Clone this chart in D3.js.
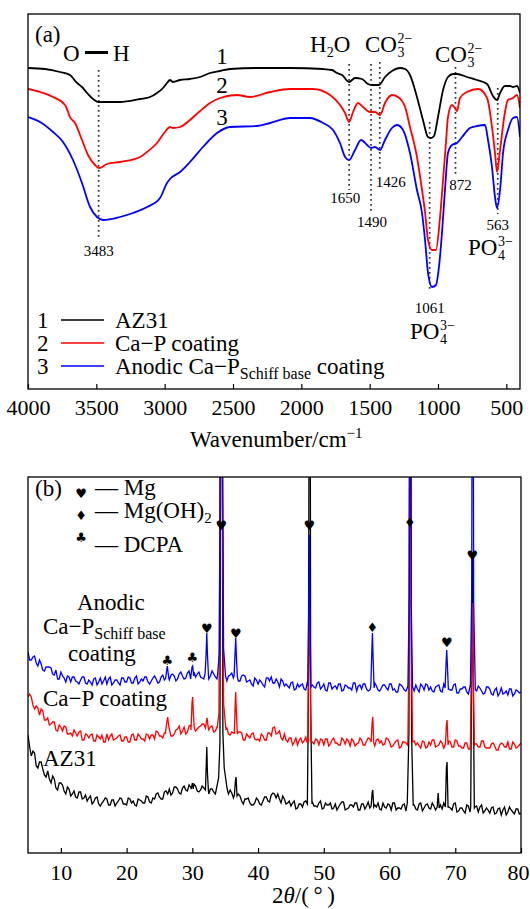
<!DOCTYPE html>
<html><head><meta charset="utf-8">
<script src="https://cdn.jsdelivr.net/npm/d3@7"></script>
<style>
body{margin:0;background:#fff;}
svg, svg text, svg tspan{font-family:"Liberation Serif","Tinos","Times New Roman","Nimbus Roman","DejaVu Serif",serif !important;}
svg text{fill:#000;}
svg text.sym{font-family:"DejaVu Sans",sans-serif !important;}
</style></head><body>
<svg id="c" width="530" height="909"></svg>
<script>
// ---------- FTIR data (panel a): wavenumber (cm-1) and transmittance (a.u.) ----------
const az31Wn = [4000,3876,3766,3693,3641,3605,3568,3524,3488,3437,3327,3180,3107,3056,3012,2983,2961,2939,2888,2815,2741,2668,2595,2522,2324,2083,1841,1776,1739,1702,1651,1607,1556,1512,1483,1432,1388,1337,1278,1241,1205,1154,1110,1073,1051,1029,1000,963,927,890,861,788,715,641,598,568,546,510,473,451,422,400];
const az31T  = [321,320,317,314,306,302,296,290,287,287,287,290,292,296,301,306,309,307,309,310,312,316,318,320,321,321,320,319,316,314,307,311,310,305,304,304,312,318,321,320,314,292,269,252,251,253,272,299,312,315,315,312,309,305,293,289,296,303,303,302,303,296];
const capWn = [4000,3912,3817,3729,3707,3693,3656,3605,3561,3510,3480,3422,3327,3180,3129,3056,2998,2961,2939,2888,2815,2741,2668,2595,2471,2376,2229,2083,1915,1790,1717,1680,1651,1622,1585,1549,1498,1461,1424,1388,1337,1293,1241,1205,1154,1117,1095,1073,1044,1015,985,963,942,927,898,876,861,839,788,707,641,605,583,568,546,510,488,451,422,400];
const capT  = [300,297,292,284,277,272,266,249,234,224,221,225,227,232,237,246,257,262,261,262,269,278,286,291,294,292,297,300,300,294,284,276,267,277,286,282,277,277,274,286,294,292,282,262,232,199,177,149,139,139,172,209,246,272,284,281,278,291,297,300,291,262,236,217,239,277,289,291,294,281];
const anodicWn = [4000,3912,3817,3744,3671,3605,3546,3495,3451,3327,3232,3129,3034,2983,2961,2888,2815,2720,2617,2522,2324,2229,2083,1937,1841,1768,1717,1680,1651,1607,1563,1519,1490,1461,1424,1388,1337,1300,1256,1205,1154,1117,1095,1073,1044,1015,993,971,949,927,898,861,824,766,715,656,634,605,583,568,546,524,488,451,422,400];
const anodicT  = [272,267,257,247,229,206,182,172,169,172,176,182,191,206,210,217,227,242,256,262,263,266,271,271,266,259,246,232,229,239,249,244,241,242,239,249,261,264,259,236,199,176,149,116,102,104,122,156,199,236,244,246,252,261,263,264,249,222,192,181,199,236,259,271,272,252];
const ftirTicks = [4000,3500,3000,2500,2000,1500,1000,500];
// band assignments: wavenumber, dotted-line top / bottom (transmittance a.u.)
const bandWn = [3483,1650,1490,1426,1061,872,563];
const bandTop = [319,325,325,327,267,322,301];
const bandBottom = [149,199,177,217,97,215,175];

// ---------- XRD data (panel b): 2theta (deg) and intensity (a.u.) ----------
const twoTheta = [5,5.5,6,6.5,7,7.5,8,8.5,9,9.5,10,10.5,11,11.5,12,12.5,13,13.5,14,14.5,15,15.5,16,16.5,17,17.5,18,18.5,19,19.5,20,20.5,21,21.5,22,22.5,23,23.5,24,24.5,25,25.5,26,26.5,27,27.5,28,28.5,29,29.5,30,30.5,31,31.5,32,32.5,33,33.5,34,34.5,35,35.5,36,36.5,37,37.5,38,38.5,39,39.5,40,40.5,41,41.5,42,42.5,43,43.5,44,44.5,45,45.5,46,46.5,47,47.5,48,48.5,49,49.5,50,50.5,51,51.5,52,52.5,53,53.5,54,54.5,55,55.5,56,56.5,57,57.5,58,58.5,59,59.5,60,60.5,61,61.5,62,62.5,63,63.5,64,64.5,65,65.5,66,66.5,67,67.5,68,68.5,69,69.5,70,70.5,71,71.5,72,72.5,73,73.5,74,74.5,75,75.5,76,76.5,77,77.5,78,78.5,79,79.5,80];
const xrdAnodic = [201,193,197,187,189,182,186,185,178,174,181,175,177,171,176,171,173,176,169,171,174,168,175,172,169,176,170,173,168,175,171,175,170,177,171,172,176,169,175,174,171,178,174,173,179,172,179,177,175,182,179,176,181,175,180,174,182,176,175,179,173,177,180,174,172,177,177,172,169,175,169,171,166,175,176,170,171,174,167,167,170,163,169,168,164,171,165,166,170,164,169,162,170,166,164,169,163,167,165,170,162,168,169,164,163,170,167,162,168,165,169,163,161,169,166,162,167,164,168,161,167,169,163,162,166,168,161,167,164,163,169,160,164,166,159,165,161,167,162,160,166,159,163,157,165,160,158,164,159,162,161];
const xrdCaP = [156,156,144,145,144,133,135,129,131,122,126,127,119,120,123,117,122,113,118,118,112,118,114,111,119,117,113,115,118,112,116,111,119,113,117,114,119,114,118,122,117,115,123,121,117,123,127,122,119,127,126,122,126,129,123,123,127,122,125,118,126,119,121,116,121,120,113,117,119,114,114,119,113,120,117,126,120,115,119,111,115,111,108,115,112,110,116,109,113,114,108,114,109,115,110,108,113,114,107,112,109,115,108,112,114,107,113,110,108,115,111,107,112,105,111,110,106,113,108,107,112,105,111,113,106,108,110,107,112,106,113,107,105,110,104,111,109,106,112,106,105,109,107,103,110,106,111,104,109,106,110];
const xrdAZ31 = [118,97,100,85,91,78,82,70,74,63,70,62,66,57,62,55,61,55,52,57,51,56,47,52,54,48,53,50,55,49,48,54,52,47,53,50,57,51,55,59,56,54,62,64,60,66,60,65,63,68,63,67,61,67,64,59,64,59,63,60,64,59,60,53,59,52,54,55,48,50,53,48,56,52,58,59,59,50,54,50,47,52,45,49,51,44,50,47,46,52,45,48,50,45,43,49,51,44,48,46,50,43,49,47,45,51,46,44,50,45,48,50,43,45,48,42,49,47,44,49,42,48,45,50,43,47,44,49,46,43,50,42,45,40,47,43,46,41,48,42,43,45,39,44,38,46,41,43,39,44,40];
// intermediate scan points (every 0.5 deg, offset by 0.25 deg)
const twoThetaMid = [5.25,5.75,6.25,6.75,7.25,7.75,8.25,8.75,9.25,9.75,10.25,10.75,11.25,11.75,12.25,12.75,13.25,13.75,14.25,14.75,15.25,15.75,16.25,16.75,17.25,17.75,18.25,18.75,19.25,19.75,20.25,20.75,21.25,21.75,22.25,22.75,23.25,23.75,24.25,24.75,25.25,25.75,26.25,26.75,27.25,27.75,28.25,28.75,29.25,29.75,30.25,30.75,31.25,31.75,32.25,32.75,33.25,33.75,34.25,34.75,35.25,35.75,36.25,36.75,37.25,37.75,38.25,38.75,39.25,39.75,40.25,40.75,41.25,41.75,42.25,42.75,43.25,43.75,44.25,44.75,45.25,45.75,46.25,46.75,47.25,47.75,48.25,48.75,49.25,49.75,50.25,50.75,51.25,51.75,52.25,52.75,53.25,53.75,54.25,54.75,55.25,55.75,56.25,56.75,57.25,57.75,58.25,58.75,59.25,59.75,60.25,60.75,61.25,61.75,62.25,62.75,63.25,63.75,64.25,64.75,65.25,65.75,66.25,66.75,67.25,67.75,68.25,68.75,69.25,69.75,70.25,70.75,71.25,71.75,72.25,72.75,73.25,73.75,74.25,74.75,75.25,75.75,76.25,76.75,77.25,77.75,78.25,78.75,79.25,79.75];
const xrdAnodicMid = [193,196,190,193,183,186,186,179,183,174,177,171,176,176,172,169,176,170,173,168,175,171,169,176,174,168,173,170,175,171,176,170,175,169,174,176,171,172,177,170,176,173,171,178,177,174,181,174,180,174,181,179,176,174,182,177,179,174,177,179,172,178,175,179,172,178,171,173,167,173,173,168,175,172,170,174,166,172,169,165,171,164,166,169,163,170,168,165,171,166,163,170,164,167,169,162,168,165,163,170,167,164,169,162,168,170,163,165,168,163,169,164,161,168,163,166,168,162,164,169,163,168,166,161,167,162,169,164,163,168,160,164,166,161,167,160,162,165,159,166,164,158,165,160,159,162,164,157,163,160];
const xrdCaPMid = [159,148,147,138,142,133,128,131,123,128,122,126,119,117,120,121,113,119,115,119,112,116,118,111,113,119,114,117,112,116,111,118,113,119,114,112,118,118,114,121,117,120,124,117,119,124,119,126,121,128,121,124,127,129,121,126,121,126,121,119,125,118,120,115,121,113,119,115,120,113,112,117,113,120,125,119,122,113,113,115,108,115,113,110,116,109,111,114,108,113,114,107,113,110,108,115,109,112,114,107,110,113,108,115,109,107,114,112,109,114,106,110,113,106,111,108,106,112,110,105,111,106,108,113,107,112,105,110,111,106,112,107,105,110,104,111,109,106,112,105,105,110,103,108,109,106,104,111,105,108];
const xrdAZ31Mid = [106,102,87,91,84,76,74,77,65,70,68,59,64,59,56,61,54,58,55,49,55,49,50,55,48,53,47,52,54,49,55,50,48,54,52,50,56,50,54,60,54,61,59,58,66,64,59,67,62,66,69,62,63,65,58,64,61,60,67,59,59,63,55,57,57,49,54,50,48,55,49,52,56,51,60,55,54,57,49,52,50,44,49,46,52,45,51,47,50,44,50,48,44,49,46,51,43,45,48,50,43,49,44,51,45,48,50,43,46,49,43,50,45,44,49,47,42,48,43,50,45,49,44,47,42,48,50,43,45,49,41,45,42,48,41,43,47,46,40,45,40,46,40,45,43,38,46,41,44,39];
const peaksAnodic = [
 [[25.95,175],[26.1,183],[26.2,187],[26.3,181],[26.45,174]],
 [[29.8,178],[29.95,186],[30.05,187],[30.2,177]],
 [[31.95,180],[32.1,200],[32.2,220],[32.3,198],[32.45,178]],
 [[33.85,179],[34.1,200],[34.25,420],[34.6,420],[34.75,205],[35.05,177]],
 [[36.35,177],[36.5,200],[36.6,215],[36.7,196],[36.85,176]],
 [[47.55,167],[47.7,240],[47.8,318],[47.9,235],[48.05,166]],
 [[57.15,166],[57.3,200],[57.4,220],[57.5,195],[57.65,165]],
 [[62.8,168],[63.0,260],[63.05,420],[63.25,420],[63.3,250],[63.5,166]],
 [[68.45,165],[68.6,190],[68.7,203],[68.8,188],[68.95,164]],
 [[72.3,166],[72.5,260],[72.55,420],[72.75,420],[72.8,250],[73.05,163]]
];
const peaksCaP = [
 [[25.9,120],[26.1,130],[26.25,136],[26.4,127],[26.6,121]],
 [[29.8,123],[29.95,150],[30.05,156],[30.15,140],[30.3,125]],
 [[32.0,125],[32.15,132],[32.25,135],[32.4,126]],
 [[33.8,126],[34.05,140],[34.25,420],[34.55,420],[34.75,150],[35.1,124]],
 [[36.4,120],[36.5,145],[36.6,161],[36.7,140],[36.85,119]],
 [[47.55,112],[47.7,200],[47.8,263],[47.9,195],[48.05,112]],
 [[57.2,111],[57.35,130],[57.45,136],[57.6,110]],
 [[62.8,113],[63.0,230],[63.05,420],[63.25,420],[63.3,220],[63.5,111]],
 [[68.5,109],[68.65,128],[68.75,133],[68.9,108]],
 [[72.3,110],[72.5,200],[72.6,250],[72.7,200],[72.9,108]]
];
const peaksAZ31 = [
 [[29.85,64],[30.0,70],[30.15,64]],
 [[32.0,63],[32.1,85],[32.2,106],[32.3,80],[32.45,62]],
 [[33.6,62],[34.0,75],[34.2,110],[34.3,420],[34.55,420],[34.65,120],[34.85,85],[35.3,64]],
 [[36.4,58],[36.55,72],[36.65,76],[36.8,57]],
 [[47.5,49],[47.65,150],[47.75,420],[47.95,420],[48.0,150],[48.2,49]],
 [[57.2,47],[57.35,60],[57.45,63],[57.6,46]],
 [[62.7,50],[62.95,120],[63.05,420],[63.25,420],[63.35,120],[63.6,48]],
 [[67.25,46],[67.4,60],[67.55,45]],
 [[68.5,46],[68.65,85],[68.75,91],[68.9,46]],
 [[72.35,46],[72.5,200],[72.6,300],[72.7,200],[72.9,45]]
];
const xrdTicks = [10,20,30,40,50,60,70,80];
const markerAngles = [34.4,47.8,63.1,72.6,32.2,36.6,26.2,30.0,57.4,68.7];
const markerPhases = ['Mg','Mg','MgOH','Mg','Mg','Mg','DCPA','DCPA','MgOH','Mg'];
const markerI = [328,328,331,298,225,220,193,196,226,211];

// ---------- drawing ----------
const SERIF = '"Liberation Serif","Tinos","Times New Roman","Nimbus Roman","DejaVu Serif",serif';
const svg = d3.select('#c');
svg.append('rect').attr('width',530).attr('height',909).attr('fill','#fff');
const FS = 23, SMALL = 15;
const glyph = {Mg:'\u2665', MgOH:'\u2666', DCPA:'\u2663'};
function txt(x, y, size){
  return svg.append('text').attr('x',x).attr('y',y).attr('font-family',SERIF).style('font-size',size+'px');
}
function chem(x, y, base, sub, sup) {
  const t = txt(x, y, FS).text(base);
  const w = t.node().getComputedTextLength();
  if (sup) txt(x + w + 0.5, y - 9, 14).text(sup);
  if (sub) txt(x + w + 0.5, y + 5, 14).text(sub);
}

// ===== Panel (a) =====
const A = {l:28, t:14, r:520, b:389};
const xA = d3.scaleLinear().domain([4000,400]).range([A.l, A.r]);
const yA = d3.scaleLinear().domain([0,375]).range([A.b, A.t]);
svg.append('clipPath').attr('id','clipA').append('rect')
  .attr('x',A.l).attr('y',A.t).attr('width',A.r-A.l).attr('height',A.b-A.t);

const gBand = svg.append('g');
bandWn.forEach((w,i)=>{
  gBand.append('line').attr('x1',xA(w)).attr('x2',xA(w))
    .attr('y1',yA(bandTop[i])).attr('y2',yA(bandBottom[i]))
    .attr('stroke','#333').attr('stroke-width',1.7).attr('stroke-dasharray','1.7,3.3');
});

const lineA = d3.line().x(d=>xA(d[0])).y(d=>yA(d[1])).curve(d3.curveMonotoneX);
const ftirSeries = [
  {wn: az31Wn, t: az31T, color:'#000000'},
  {wn: capWn, t: capT, color:'#ff0000'},
  {wn: anodicWn, t: anodicT, color:'#0000ff'}
];
const gA = svg.append('g').attr('clip-path','url(#clipA)');
ftirSeries.forEach(s=>{
  gA.append('path').datum(s.wn.map((w,i)=>[w, s.t[i]]))
    .attr('d', lineA).attr('fill','none').attr('stroke', s.color).attr('stroke-width',1.8);
});

svg.append('rect').attr('x',A.l).attr('y',A.t).attr('width',A.r-A.l).attr('height',A.b-A.t)
  .attr('fill','none').attr('stroke','#000').attr('stroke-width',1.3);
const axA = svg.append('g').attr('transform',`translate(0,${A.b})`)
  .call(d3.axisBottom(xA).tickValues(ftirTicks).tickSize(-5).tickPadding(10.4).tickFormat(d3.format('d')));
axA.select('.domain').remove();
axA.attr('font-size',22).attr('font-family',SERIF);
axA.selectAll('text').attr('font-family',SERIF);
axA.selectAll('line').attr('stroke-width',1.2);

const tA = txt(190, 447, FS);
tA.append('tspan').text('Wavenumber/cm');
tA.append('tspan').attr('dy',-9).style('font-size','15px').text('\u22121');

txt(35, 42, FS).text('(a)');
txt(63, 61, FS).text('O');
svg.append('line').attr('x1',85).attr('x2',108).attr('y1',52.5).attr('y2',52.5).attr('stroke','#000').attr('stroke-width',3);
txt(113, 61, FS).text('H');

[['1',64],['2',93],['3',125]].forEach(d=>{
  txt(222, d[1], FS).attr('text-anchor','middle').text(d[0]);
});

const h2o = txt(310, 52, FS);
h2o.append('tspan').text('H');
h2o.append('tspan').attr('dy',5).style('font-size','14px').text('2');
h2o.append('tspan').attr('dy',-5).text('O');
chem(365, 52, 'CO', '3', '2\u2212');
chem(435, 62, 'CO', '3', '2\u2212');
chem(468, 255, 'PO', '4', '3\u2212');
chem(410, 339, 'PO', '4', '3\u2212');

const bandLabelY = [256,203,227,187,313,190,230];
const bandLabelDx = [0,-4,1,11,0,5,0];
bandWn.forEach((w,i)=>{
  txt(xA(w)+bandLabelDx[i], bandLabelY[i], SMALL).attr('text-anchor','middle').text(w);
});

const legA = [['1','AZ31','#000000'],['2','Ca\u2212P coating','#ff0000'],['3','Anodic Ca\u2212P','#0000ff']];
legA.forEach((d,i)=>{
  const y = 328 + i*23;
  txt(37, y, FS).text(d[0]);
  svg.append('line').attr('x1',61).attr('x2',104).attr('y1',y-8).attr('y2',y-8).attr('stroke',d[2]).attr('stroke-width',1.7);
  const t = txt(115, y, FS);
  t.append('tspan').text(d[1]);
  if (i===2){
    t.append('tspan').attr('dy',5).style('font-size','16px').text('Schiff base');
    t.append('tspan').attr('dy',-5).text(' coating');
  }
});

// ===== Panel (b) =====
const B = {l:28, t:477, r:521, b:853};
const xB = d3.scaleLinear().domain([5,80]).range([B.l, B.r]);
const yB = d3.scaleLinear().domain([0,376]).range([B.b, B.t]);
svg.append('clipPath').attr('id','clipB').append('rect')
  .attr('x',B.l).attr('y',B.t).attr('width',B.r-B.l).attr('height',B.b-B.t);

function mergeSeries(base, mid, peaks){
  let pts = twoTheta.map((t,i)=>[t, base[i]]).concat(twoThetaMid.map((t,i)=>[t, mid[i]]));
  peaks.forEach(p=>{
    const lo = p[0][0], hi = p[p.length-1][0];
    pts = pts.filter(d=> d[0] < lo || d[0] > hi).concat(p);
  });
  return pts.sort((a,b)=>a[0]-b[0]);
}
const lineB = d3.line().x(d=>xB(d[0])).y(d=>yB(d[1]));
const gB = svg.append('g').attr('clip-path','url(#clipB)');
[[xrdAZ31, xrdAZ31Mid, peaksAZ31, '#000000'],[xrdCaP, xrdCaPMid, peaksCaP, '#ff0000'],[xrdAnodic, xrdAnodicMid, peaksAnodic, '#0000ff']].forEach(s=>{
  gB.append('path').datum(mergeSeries(s[0], s[1], s[2])).attr('d', lineB)
    .attr('fill','none').attr('stroke', s[3]).attr('stroke-width',1.3);
});

svg.append('rect').attr('x',B.l).attr('y',B.t).attr('width',B.r-B.l).attr('height',B.b-B.t)
  .attr('fill','none').attr('stroke','#000').attr('stroke-width',1.3);
const axB = svg.append('g').attr('transform',`translate(0,${B.b})`)
  .call(d3.axisBottom(xB).tickValues(xrdTicks).tickSize(-5).tickPadding(11.4));
axB.select('.domain').remove();
axB.attr('font-size',22).attr('font-family',SERIF);
axB.selectAll('text').attr('font-family',SERIF).attr('dx', d => d === 80 ? -3 : 0);
axB.selectAll('line').attr('stroke-width',1.2);

const tB = txt(272, 903, FS);
tB.append('tspan').text('2');
tB.append('tspan').style('font-style','italic').text('\u03b8');
tB.append('tspan').text('/(\u2009\u00b0\u2009)');

markerAngles.forEach((a,i)=>{
  svg.append('text').attr('class','sym').attr('x',xB(a)).attr('y',yB(markerI[i]))
    .attr('text-anchor','middle').attr('dominant-baseline','central')
    .style('font-size','13px').text(glyph[markerPhases[i]]);
});

txt(35, 496, FS).text('(b)');
[['Mg',493],['MgOH',515],['DCPA',537]].forEach(d=>{
  svg.append('text').attr('class','sym').attr('x',81).attr('y',d[1]).attr('text-anchor','middle').attr('dominant-baseline','central')
    .style('font-size','13px').text(glyph[d[0]]);
});
txt(95, 495, FS).text('\u2014 Mg');
const moh = txt(95, 518, FS);
moh.append('tspan').text('\u2014 Mg(OH)');
moh.append('tspan').attr('dy',5).style('font-size','15px').text('2');
txt(95, 552, FS).text('\u2014 DCPA');

txt(77, 610, FS).text('Anodic');
const cps = txt(43, 634, FS);
cps.append('tspan').text('Ca\u2212P');
cps.append('tspan').attr('dy',5).style('font-size','16px').text('Schiff base');
txt(68, 661, FS).text('coating');
txt(43, 706, FS).text('Ca\u2212P coating');
txt(43, 766, FS).text('AZ31');
</script>
</body></html>
